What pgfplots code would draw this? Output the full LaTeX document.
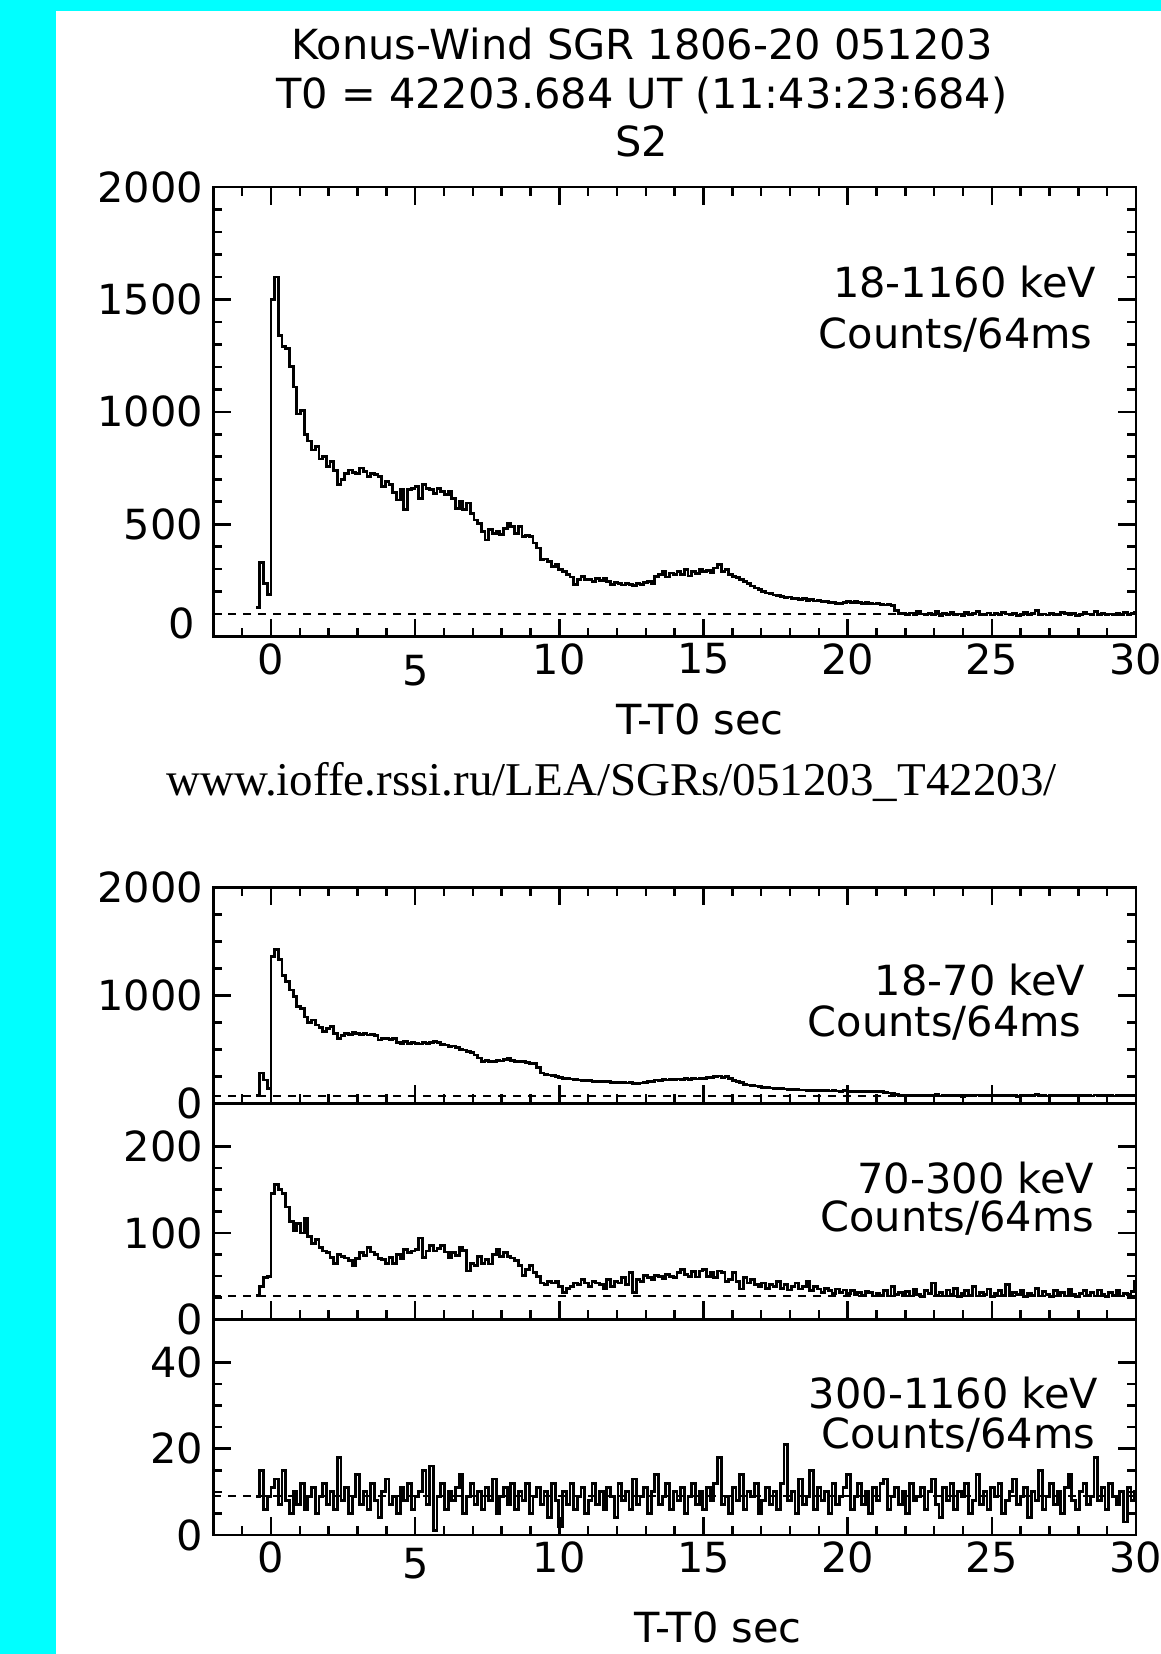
\documentclass[border=0pt]{standalone}
\usepackage{fontspec}
\setmainfont{DejaVu Sans}
\newfontfamily\urlfont{Liberation Serif}
\usepackage{pgfplots}
\usepackage{pgfplotstable}
\pgfplotsset{compat=1.18}
\definecolor{kwcyan}{HTML}{00FFFF}

% Konus-Wind light curve, 0.128 s bins
% t = bin start (s), a = 18-1160 keV, b = 18-70 keV, c = 70-300 keV, d = 300-1160 keV
\pgfplotstableread{
t a b c d
-0.512 130 75 28 9
-0.384 330 280 38 15
-0.256 235 215 48 6
-0.128 188 140 50 9
0 1500 1360 146 11
0.128 1600 1426 156 13
0.256 1340 1330 150 7
0.384 1290 1180 146 15
0.512 1280 1130 130 8
0.64 1200 1050 113 5
0.768 1110 990 103 10
0.896 990 900 111 7
1.024 1005 880 100 12
1.152 900 800 117 6
1.28 870 745 96 9
1.408 830 772 88 11
1.536 845 725 92 5
1.664 790 700 83 9
1.792 800 664 79 12
1.92 756 690 77 7
2.048 780 710 72 10
2.176 740 650 65 6
2.304 675 602 75 18
2.432 700 630 73 8
2.56 725 648 71 11
2.688 741 640 68 5
2.816 730 655 62 9
2.944 727 648 70 14
3.072 750 640 77 7
3.2 735 650 74 10
3.328 712 633 83 6
3.456 727 640 78 12
3.584 720 625 75 8
3.712 712 587 70 4
3.84 668 600 69 10
3.968 690 602 65 13
4.096 675 590 72 7
4.224 640 598 65 9
4.352 608 560 75 5
4.48 653 556 70 11
4.608 564 575 81 8
4.736 653 556 77 12
4.864 660 560 79 6
4.992 668 556 81 9
5.12 616 550 94 10
5.248 675 560 72 15
5.376 660 556 79 7
5.504 653 562 85 16
5.632 638 571 79 1
5.76 660 560 82 9
5.888 645 548 85 12
6.016 631 540 78 6
6.144 645 525 71 10
6.272 616 530 77 8
6.4 571 515 74 11
6.528 601 500 83 14
6.656 564 494 80 5
6.784 594 480 56 9
6.912 549 470 65 12
7.04 519 448 62 7
7.168 504 420 73 10
7.296 467 386 65 6
7.424 430 400 69 11
7.552 475 390 64 8
7.68 460 386 75 13
7.808 467 395 81 5
7.936 453 392 73 9
8.064 482 405 77 11
8.192 504 417 73 7
8.32 490 395 71 12
8.448 460 386 68 6
8.576 490 390 62 10
8.704 445 385 51 8
8.832 450 380 58 12
8.96 445 370 62 5
9.088 416 372 54 9
9.216 394 330 50 11
9.344 342 280 42 7
9.472 345 270 40 10
9.6 335 262 44 4
9.728 312 258 42 12
9.856 320 250 44 8
9.984 297 240 38 2
10.112 290 231 31 10
10.24 275 228 36 7
10.368 265 225 38 12
10.496 231 220 42 6
10.624 253 216 40 9
10.752 268 214 46 11
10.88 255 212 42 5
11.008 253 210 38 8
11.136 245 205 44 12
11.264 260 200 42 7
11.392 250 202 40 10
11.52 260 198 36 6
11.648 245 200 46 11
11.776 231 195 38 9
11.904 240 192 44 4
12.032 238 194 42 12
12.16 230 190 48 8
12.288 238 188 40 10
12.416 232 191 54 6
12.544 226 186 31 13
12.672 236 185 46 7
12.8 231 188 44 9
12.928 240 195 51 11
13.056 246 205 48 5
13.184 236 198 46 10
13.312 268 216 51 14
13.44 275 210 50 7
13.568 290 220 47 9
13.696 265 215 52 12
13.824 283 222 50 6
13.952 278 218 48 10
14.08 290 225 54 8
14.208 275 220 58 11
14.336 297 228 52 5
14.464 270 222 50 9
14.592 290 230 55 12
14.72 280 225 49 7
14.848 300 235 56 10
14.976 290 231 58 6
15.104 295 240 50 11
15.232 285 236 54 8
15.36 305 245 48 12
15.488 320 253 56 18
15.616 290 240 54 7
15.744 300 250 44 9
15.872 275 230 46 5
16 268 210 54 11
16.128 262 200 44 8
16.256 253 190 35 14
16.384 245 175 48 6
16.512 238 170 42 10
16.64 225 165 46 9
16.768 216 160 40 12
16.896 210 154 38 5
17.024 200 150 42 8
17.152 194 148 36 11
17.28 192 142 40 7
17.408 185 140 38 10
17.536 182 137 44 6
17.664 179 139 36 12
17.792 175 132 40 21
17.92 176 130 34 8
18.048 170 128 38 10
18.176 171 126 42 5
18.304 165 124 35 13
18.432 168 123 38 7
18.56 160 120 44 9
18.688 164 122 33 15
18.816 158 118 38 6
18.944 162 120 35 11
19.072 155 116 31 8
19.2 156 117 36 10
19.328 150 114 33 5
19.456 153 116 30 12
19.584 148 114 35 7
19.712 149 113 31 9
19.84 152 115 34 11
19.968 156 114 30 14
20.096 150 112 33 6
20.224 156 114 29 9
20.352 152 111 31 12
20.48 148 113 28 7
20.608 151 112 32 10
20.736 149 110 31 5
20.864 145 111 27 11
20.992 147 108 30 8
21.12 143 106 28 12
21.248 141 100 33 13
21.376 144 95 27 6
21.504 140 88 38 9
21.632 115 80 29 11
21.76 104 76 31 7
21.888 102 72 28 10
22.016 98 70 32 5
22.144 105 74 27 12
22.272 96 68 35 8
22.4 110 76 29 9
22.528 101 71 26 11
22.656 97 69 33 6
22.784 104 73 30 10
22.912 99 70 42 13
23.04 112 78 28 7
23.168 95 67 31 4
23.296 103 72 27 11
23.424 100 70 34 8
23.552 108 75 29 12
23.68 97 69 36 6
23.808 101 71 26 10
23.936 94 66 30 9
24.064 106 74 33 12
24.192 99 70 28 5
24.32 103 72 38 8
24.448 111 77 27 14
24.576 98 69 31 7
24.704 100 70 29 10
24.832 105 73 35 6
24.96 96 68 26 11
25.088 102 71 30 9
25.216 99 70 33 12
25.344 108 75 28 5
25.472 101 71 40 8
25.6 97 68 27 10
25.728 104 73 31 13
25.856 93 66 29 7
25.984 100 70 34 9
26.112 106 74 26 11
26.24 98 69 30 4
26.368 102 71 28 10
26.496 115 79 36 8
26.624 99 70 27 15
26.752 101 71 32 6
26.88 96 68 29 9
27.008 104 73 26 12
27.136 100 70 33 7
27.264 97 68 28 10
27.392 109 76 31 5
27.52 102 71 27 11
27.648 98 69 35 14
27.776 103 72 29 8
27.904 95 67 26 6
28.032 100 70 30 10
28.16 107 75 33 12
28.288 101 71 28 7
28.416 97 68 31 9
28.544 112 77 27 18
28.672 99 70 34 8
28.8 104 73 29 11
28.928 98 69 26 6
29.056 101 71 31 12
29.184 96 68 28 9
29.312 105 73 33 7
29.44 100 70 27 10
29.568 108 75 30 3
29.696 99 70 29 11
29.824 103 72 32 8
29.952 106 74 44 10
30.08 106 74 44 10
}\kwdata

\pgfplotsset{
  kwaxis/.style={
    scale only axis, width=461.35pt, anchor=north west,
    xmin=-2, xmax=30, ymin=0,
    xtick={0,5,...,30}, minor xtick={-2,-1,...,30},
    tick align=inside, major tick length=9pt, minor tick length=4.5pt,
    axis line style={line width=1.3pt}, tick style={line width=1.3pt, black},
    yticklabel style={inner sep=0pt, xshift=-5pt},
    xticklabel style={inner sep=0pt, yshift=-3.3pt},
    /pgf/number format/assume math mode=true,
    /pgf/number format/1000 sep={},
  },
  kwline/.style={const plot, black, line width=1.4pt, no marks},
  kwbg/.style={black, line width=1.1pt, dash pattern=on 4pt off 3.5pt, no marks},
}

\begin{document}
\begin{tikzpicture}[font=\fontsize{20.75}{25}\selectfont]
\fill[kwcyan] (0,0) rectangle (580.5pt,-827pt);
\fill[white] (28pt,-5.5pt) rectangle (580.5pt,-827pt);
\useasboundingbox (0,0) rectangle (580.5pt,-827pt);

\node[anchor=base] at (321pt,-29.65pt) {Konus-Wind SGR 1806-20 051203};
\node[anchor=base] at (321pt,-54.15pt) {T0 = 42203.684 UT (11:43:23:684)};
\node[anchor=base] at (321pt,-78.35pt) {S2};

% 18-1160 keV
\begin{axis}[kwaxis, at={(106.65pt,-93.5pt)}, height=224.8pt,
    ymax=2000, ytick={0,500,...,2000}, minor y tick num=4,
    yticklabels={,500,1000,1500,2000}, xticklabels={0,,10,15,20,25,30}]
  \addplot[kwbg] coordinates {(-2,100) (30,100)};
  \addplot[kwline] table[x=t, y=a] {\kwdata};
\end{axis}
\node[anchor=east, inner sep=0pt] at (97.5pt,-311.5pt) {0};
\node[inner sep=0pt] at (207.85pt,-335.5pt) {5};
\node[anchor=base east, inner sep=0pt] at (548.25pt,-148.65pt) {18-1160 keV};
\node[anchor=base east, inner sep=0pt] at (546.5pt,-174.15pt) {Counts/64ms};
\node[anchor=base] at (350pt,-367pt) {T-T0 sec};
\node[anchor=base, font=\urlfont\fontsize{23.5}{28}\selectfont] at (305.75pt,-397.5pt)
  {www.ioffe.rssi.ru/LEA/SGRs/051203\_T42203/};

% 18-70 keV
\begin{axis}[kwaxis, at={(106.65pt,-443.65pt)}, height=108pt,
    ymax=2000, ytick={0,1000,2000}, minor y tick num=3,
    yticklabels={0,1000,2000}, xticklabels={}]
  \addplot[kwbg] coordinates {(-2,68) (30,68)};
  \addplot[kwline] table[x=t, y=b] {\kwdata};
\end{axis}
\node[anchor=base east, inner sep=0pt] at (542.8pt,-497.5pt) {18-70 keV};
\node[anchor=base east, inner sep=0pt] at (541pt,-518.35pt) {Counts/64ms};

% 70-300 keV
\begin{axis}[kwaxis, at={(106.65pt,-551.65pt)}, height=108pt,
    ymax=250, ytick={0,100,200}, minor y tick num=3,
    yticklabels={0,100,200}, xticklabels={}, xtick pos=left, ytick pos=both]
  \addplot[kwbg] coordinates {(-2,27) (30,27)};
  \addplot[kwline] table[x=t, y=c] {\kwdata};
\end{axis}
\node[anchor=base east, inner sep=0pt] at (547.3pt,-596.65pt) {70-300 keV};
\node[anchor=base east, inner sep=0pt] at (547.3pt,-615.85pt) {Counts/64ms};

% 300-1160 keV
\begin{axis}[kwaxis, at={(106.65pt,-659.65pt)}, height=107.85pt,
    ymax=50, ytick={0,20,40}, minor y tick num=3,
    yticklabels={0,20,40}, xticklabels={0,,10,15,20,25,30},
    xtick pos=left, ytick pos=both]
  \addplot[kwbg] coordinates {(-2,9) (30,9)};
  \addplot[kwline] table[x=t, y=d] {\kwdata};
\end{axis}
\node[inner sep=0pt] at (207.85pt,-782pt) {5};
\node[anchor=base east, inner sep=0pt] at (549.4pt,-704.3pt) {300-1160 keV};
\node[anchor=base east, inner sep=0pt] at (547.8pt,-724.15pt) {Counts/64ms};
\node[anchor=base] at (359pt,-821pt) {T-T0 sec};
\end{tikzpicture}
\end{document}
